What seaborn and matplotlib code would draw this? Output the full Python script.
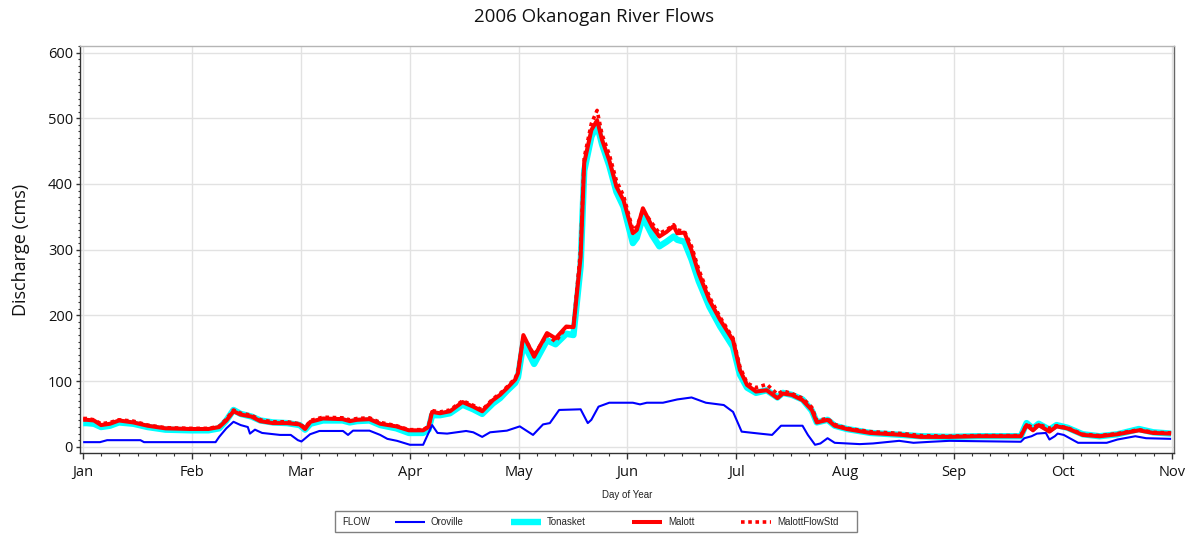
import numpy as np
import pandas as pd
import seaborn as sns
import matplotlib.pyplot as plt
from matplotlib.patches import Rectangle
from matplotlib.ticker import FixedLocator, MultipleLocator

# day of year for the Tonasket / Malott / MalottFlowStd readings
days = [0, 1, 3, 5, 7.5, 10, 14, 18, 23, 30, 35, 38, 40, 42, 44, 47, 49.5, 53, 57,
        60.5, 62, 63.5, 67, 72.5, 74.5, 76.5, 80, 83, 87.5, 91, 95, 96.5, 97.5, 99.7,
        102.5, 106, 109, 111.5, 114.5, 116.5, 118.4, 120.7, 121.5, 123, 126, 129.6, 132,
        135, 137, 139, 140, 142, 143.6, 145, 147, 149, 151, 153.6, 154.7, 156.4, 159,
        161, 163, 165, 166, 168, 170, 172, 175, 178, 181.6, 183.5, 185.5, 188, 191, 194,
        195.5, 198, 201, 203.6, 205, 208, 210, 213.4, 220, 229, 234, 242, 250, 262,
        263.6, 265.4, 267, 270, 272, 275, 279.3, 284, 289, 295, 299, 304]
malott = [41, 41, 40, 33, 35, 40, 37, 32, 28, 27, 27, 30, 40, 54, 49, 46, 39, 36, 36,
          34, 27, 38, 43, 42, 39, 41, 42, 35, 31, 25, 25, 30, 53, 51,
          54, 68, 61, 54, 71, 79, 89, 102, 112, 170, 137, 173, 165,
          183, 182, 289, 432, 482, 497, 467, 436, 396, 375, 325, 330, 363, 335,
          320, 327, 336, 325, 326, 299, 264, 223, 193, 162, 117, 94, 84, 86, 74,
          81, 79, 71, 56, 37, 41, 32, 27, 21, 18, 15, 15, 16, 16,
          33, 25, 33, 23, 31, 28, 18, 16, 19, 25, 21, 20]
tonasket = [36, 36, 35, 30, 32, 37, 35, 30, 26, 25, 25, 28, 40, 56, 50, 46, 40, 37, 36,
            33, 26, 35, 40, 40, 37, 39, 40, 33, 28, 21, 21, 26, 48, 48,
            51, 64, 57, 50, 66, 74, 85, 97, 106, 158, 126, 162, 156,
            172, 170, 275, 420, 472, 490, 460, 428, 388, 365, 310, 318, 350, 322,
            305, 312, 320, 315, 312, 285, 252, 213, 183, 152, 110, 90, 82, 86, 75,
            82, 79, 72, 55, 37, 41, 32, 27, 21, 18, 16, 15, 16, 16,
            36, 28, 35, 26, 33, 29, 19, 16, 19, 27, 22, 20]
malott_std = [43, 43, 41, 35, 37, 41, 39, 33, 29, 28, 28, 31, 42, 56, 51, 48, 41, 38, 38,
              35, 29, 40, 45, 44, 41, 43, 44, 37, 32, 26, 26, 31, 55, 53,
              56, 70, 63, 56, 73, 81, 91, 104, 115, 168, 140, 170, 160,
              182, 183, 300, 440, 492, 512, 475, 445, 405, 382, 330, 335, 360, 340,
              325, 330, 338, 330, 328, 305, 270, 228, 197, 165, 122, 97, 90, 95, 80,
              85, 81, 74, 60, 40, 43, 34, 28, 23, 20, 17, 16, 17, 17,
              34, 29, 34, 28, 32, 29, 19, 17, 20, 26, 22, 21]

# Oroville has its own reading days
oro_days = [0, 4.7, 6.7, 16, 17, 37, 38, 40, 42, 44, 46, 46.6, 48, 50, 55, 58, 60, 61,
            63.4, 66, 72.6, 74, 75.4, 80, 83, 85, 87.7, 91.3, 95, 96, 97.5, 99, 101.7,
            107, 109, 111.5, 113.7, 118.4, 122, 125.7, 128.5, 130.4, 133, 139, 141, 142,
            144, 147, 153.6, 155.6, 157.5, 162, 166, 170, 172, 174, 179, 181.6, 184, 189,
            192.5, 195, 201, 202.5, 204.5, 206, 208, 210, 217, 220.7, 228, 232, 237, 242,
            262, 263, 265, 266.5, 269, 270, 271.5, 272.3, 274, 278, 286, 289, 294, 297, 304]
oroville = [7, 7, 10, 10, 7, 7, 15, 28, 38, 33, 30, 20, 26, 21, 18, 18, 10, 8,
            19, 24, 24, 18, 24.5, 24.5, 18, 12, 9, 3, 3, 15, 33, 21, 20,
            24, 22, 15, 22, 24.5, 31, 18, 34, 36, 56, 57, 36, 41,
            61, 67, 67, 64.5, 67, 67, 72, 75, 71, 67, 63.5, 53, 23, 20,
            18, 32, 32, 18, 3, 5, 13, 6, 4, 5, 9, 6, 7.6, 9,
            7.6, 13, 16, 20, 21, 11, 16, 20, 18, 6, 6, 11, 16, 13, 12]

months = ["Jan", "Feb", "Mar", "Apr", "May", "Jun", "Jul", "Aug", "Sep", "Oct", "Nov"]

sns.set_theme(style="white")
plt.rcParams["font.family"] = ["Open Sans", "DejaVu Sans"]
plt.rcParams["lines.solid_capstyle"] = "butt"

fig, ax = plt.subplots(figsize=(11.88, 5.35), dpi=100)
fig.subplots_adjust(left=0.0673, right=0.9882, bottom=0.1533, top=0.914)

sns.lineplot(x=days, y=tonasket, color="#00ffff", lw=4.6, ax=ax, zorder=2)
sns.lineplot(x=days, y=malott, color="#ff0000", lw=2.9, ax=ax, zorder=3)
sns.lineplot(x=days, y=malott_std, color="#ff0000", lw=2.6, linestyle=(0, (1, 1)),
             ax=ax, zorder=4)
sns.lineplot(x=oro_days, y=oroville, color="#0000ff", lw=1.5, ax=ax, zorder=5)
ton_line, mal_line, std_line, oro_line = ax.lines[-4:]

ax.set_xlim(-0.9, 304.8)
ax.set_ylim(-9.5, 610)

month_pos = [i * 365 / 12 for i in range(len(months))]
ax.xaxis.set_major_locator(FixedLocator(month_pos))
ax.xaxis.set_minor_locator(MultipleLocator(365 / 72))
ax.set_xticklabels(months)
ax.yaxis.set_major_locator(MultipleLocator(100))
ax.yaxis.set_minor_locator(MultipleLocator(10))

ax.tick_params(axis="x", which="major", length=4, width=1, pad=5, labelsize=10.5,
               bottom=True, color="#333333", labelcolor="#111111")
ax.tick_params(axis="x", which="minor", length=2, width=0.8, bottom=True, color="#333333")
ax.tick_params(axis="y", which="major", length=3, width=1, pad=2, labelsize=10.5,
               left=True, color="#333333", labelcolor="#111111")
ax.tick_params(axis="y", which="minor", length=1.5, width=0.8, left=True, color="#333333")

ax.grid(True, which="major", color="#e2e2e2", lw=1)
ax.set_axisbelow(True)
for side, col in [("left", "#333333"), ("bottom", "#333333"), ("top", "#b5b5b5"), ("right", "#666666")]:
    ax.spines[side].set_color(col)
    ax.spines[side].set_linewidth(1)

ax.set_ylabel("Discharge (cms)", fontsize=13, color="#111111")
ax.yaxis.set_label_coords(-0.046, 0.5)
ax.set_xlabel("Day of Year", fontsize=7, family=["Liberation Sans"], color="#222222", va="top")
ax.xaxis.set_label_coords(0.5, -0.091)

fig.suptitle("2006 Okanogan River Flows", y=1 - 17 / 535, va="center", fontsize=13.5,
             color="#111111")

# legend strip along the bottom
fig.add_artist(Rectangle((335 / 1188, 3 / 535), 522 / 1188, 21 / 535, transform=fig.transFigure,
                         fill=False, ec="#808080", lw=1))
fig.text(342 / 1188, 1 - 522 / 535, "FLOW", fontsize=7, va="center", family=["Liberation Sans"],
         color="#222222")
fig.legend([oro_line, ton_line, mal_line, std_line],
           ["Oroville", "Tonasket", "Malott", "MalottFlowStd"],
           loc="center left", bbox_to_anchor=(395 / 1188, 1 - 522 / 535), ncol=4,
           frameon=False, borderpad=0, borderaxespad=0, handlelength=3.1,
           handletextpad=0.6, columnspacing=4.8,
           prop={"family": ["Liberation Sans"], "size": 7})

fig.savefig("out.png", dpi=100)
